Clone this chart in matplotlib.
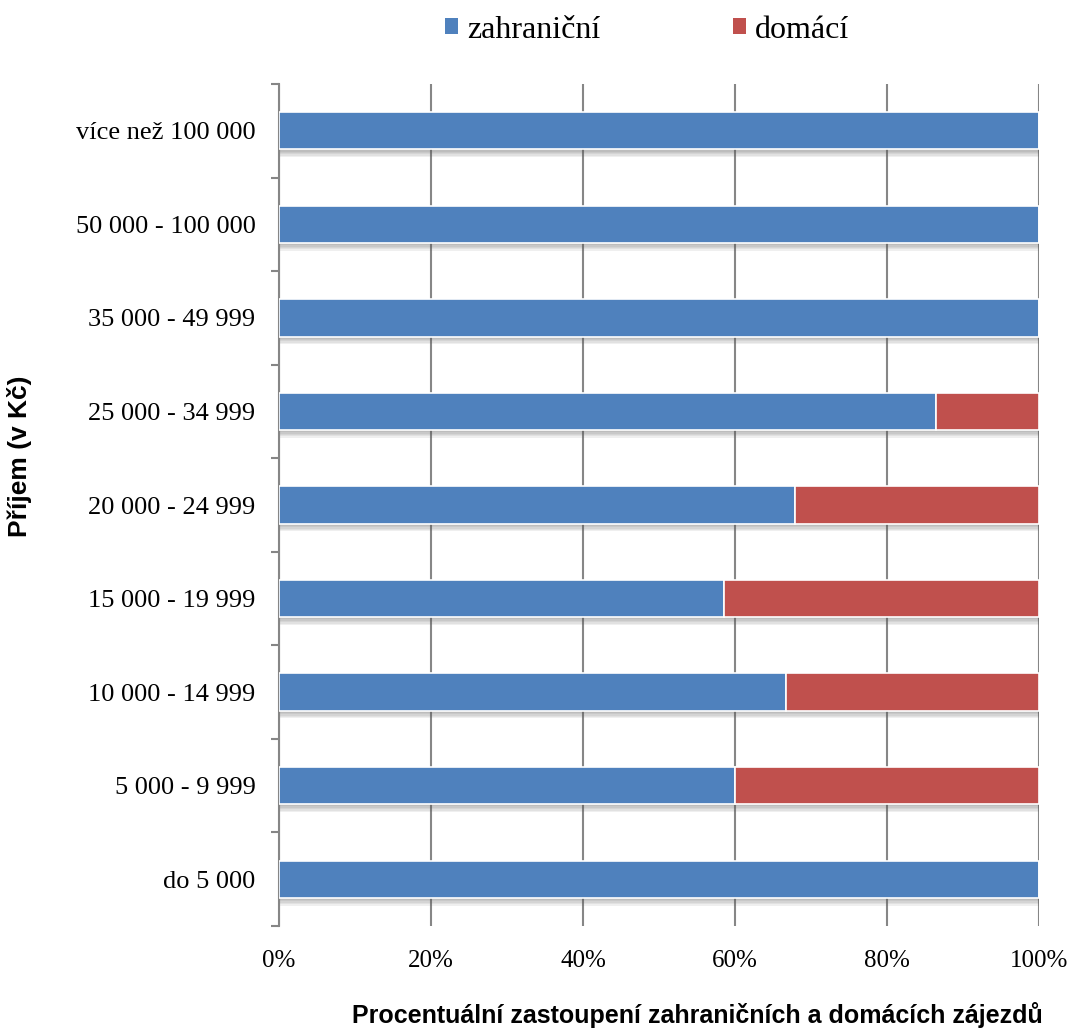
import matplotlib
matplotlib.use("Agg")
import matplotlib.pyplot as plt
import matplotlib.patheffects as pe
from matplotlib.ticker import FixedLocator, PercentFormatter

# Income brackets (bottom to top) and share of trips in percent
categories = ["do 5 000", "5 000 - 9 999", "10 000 - 14 999", "15 000 - 19 999",
              "20 000 - 24 999", "25 000 - 34 999", "35 000 - 49 999",
              "50 000 - 100 000", "více než 100 000"]
zahranicni = [100.0, 60.0, 66.7, 58.6, 67.9, 86.4, 100.0, 100.0, 100.0]
domaci = [0.0, 40.0, 33.3, 41.4, 32.1, 13.6, 0.0, 0.0, 0.0]
series_names = ["zahraniční", "domácí"]
x_ticks = [0, 20, 40, 60, 80, 100]

blue = "#4F81BD"
red = "#C0504D"
grid_gray = "#868686"
serif = ["Liberation Serif", "DejaVu Serif"]
sans = ["Liberation Sans", "DejaVu Sans"]

fig = plt.figure(figsize=(10.71, 10.35), dpi=100)
ax = fig.add_axes([279 / 1071, 1 - 926 / 1035, 760 / 1071, 842 / 1035])

y = list(range(len(categories)))
# soft drop shadow under each bar, built from a few faint offset layers
shadow = [pe.SimplePatchShadow(offset=(1, -d), shadow_rgbFace="#555555", alpha=0.09)
          for d in (5.5, 4.5, 3.5, 2.5, 1.5)] + [pe.Normal()]
bars1 = ax.barh(y, zahranicni, height=0.4, color=blue, edgecolor="white",
                linewidth=1.2, zorder=3, label=series_names[0])
bars2 = ax.barh(y, domaci, left=zahranicni, height=0.4, color=red, edgecolor="white",
                linewidth=1.2, zorder=3, label=series_names[1])
for b in list(bars1) + list(bars2):
    if b.get_width() > 0:
        b.set_path_effects(shadow)

ax.set_xlim(0, 100)
ax.set_ylim(-0.5, len(categories) - 0.5)

ax.xaxis.set_major_locator(FixedLocator(x_ticks))
ax.xaxis.set_major_formatter(PercentFormatter(decimals=0))
ax.grid(axis="x", color=grid_gray, linewidth=1.5, zorder=0)
ax.tick_params(axis="x", length=0, pad=17, labelsize=18)
for lab in ax.get_xticklabels():
    lab.set_fontfamily(serif)

ax.set_yticks(y)
ax.set_yticklabels(categories, fontfamily=serif, fontsize=19)
ax.set_yticks([i - 0.5 for i in range(len(categories) + 1)], minor=True)
ax.tick_params(axis="y", which="major", length=0, pad=17)
ax.tick_params(axis="y", which="minor", length=6, width=1.5, color=grid_gray, direction="out")

for side in ["top", "right", "bottom"]:
    ax.spines[side].set_visible(False)
ax.spines["left"].set_color(grid_gray)
ax.spines["left"].set_linewidth(1.5)

fig.text(697 / 1071, 1 - 1015 / 1035, "Procentuální zastoupení zahraničních a domácích zájezdů",
         ha="center", va="center", fontsize=18, fontweight="bold", fontfamily=sans)
fig.text(20 / 1071, 1 - 456 / 1035, "Příjem (v Kč)", rotation=90, ha="center", va="center",
         fontsize=19, fontweight="bold", fontfamily=sans)

# Legend across the top
leg = fig.legend(handles=[bars1, bars2], labels=series_names, loc="center",
                 bbox_to_anchor=(647 / 1071, 1 - 30 / 1035), ncol=2, frameon=False,
                 prop={"family": serif, "size": 23}, handlelength=0.42, handleheight=0.42,
                 handletextpad=0.28, columnspacing=4.15)
for h in leg.legend_handles:
    h.set_path_effects([])
    h.set_edgecolor("none")

fig.savefig("out.png", dpi=100)
